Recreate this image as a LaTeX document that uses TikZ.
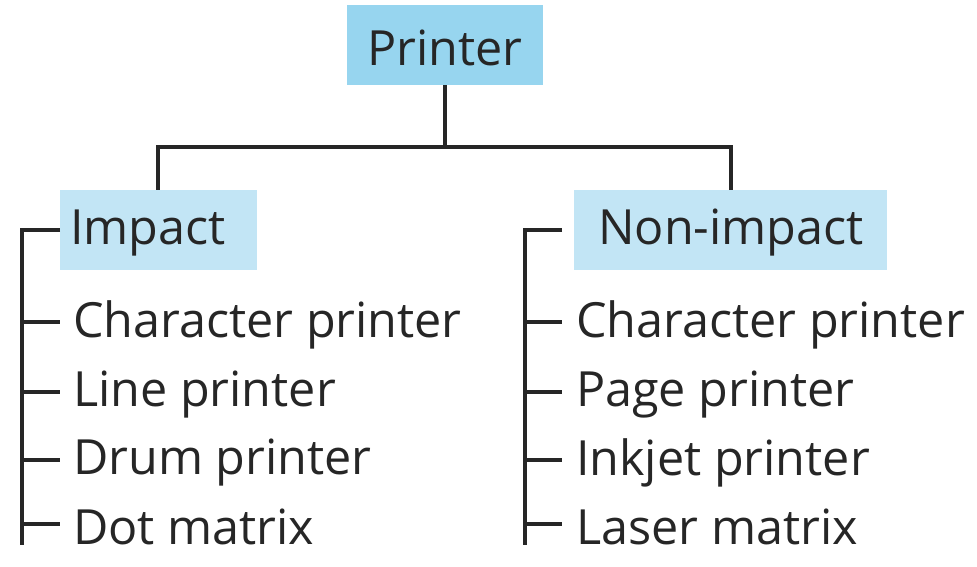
\documentclass[tikz,border=0pt]{standalone}
\usepackage{fontspec}
\setmainfont{Open Sans}
\begin{document}
\begin{tikzpicture}[x=1pt,y=-1pt,
  ln/.style={line width=3.2pt,color=black!85},
  itm/.style={anchor=west,inner sep=0pt,yshift=-3pt,font=\fontsize{48.5}{52}\selectfont,text=black!85},
  hdr/.style={inner sep=0pt,yshift=-3pt,font=\fontsize{48.5}{52}\selectfont,text=black!85}]
\useasboundingbox (0,0) rectangle (977,566);
\fill[fill={rgb,255:red,151;green,213;blue,239}] (347,5) rectangle (543,85);
\node[hdr] (p) at (445,45) {Printer};
\fill[fill={rgb,255:red,194;green,229;blue,245}] (60,190) rectangle (257,270);
\fill[fill={rgb,255:red,194;green,229;blue,245}] (574,190) rectangle (887,270);
\node[itm] (imp) at (70,230) {Impact};
\node[hdr] (nimp) at (731,230) {Non-impact};
\coordinate (pb) at (445,85);
\coordinate (ia) at (158,190);
\coordinate (na) at (731,190);
\draw[ln] (pb) -- (445,147) -- (158,147) -- (ia);
\draw[ln] (445,147) -- (731,147) -- (na);
\draw[ln] (60,230) -- (22,230) -- (22,545);
\draw[ln] (562,230) -- (525,230) -- (525,545);
\foreach \y/\a/\b [count=\i] in {322/Character printer/Character printer,392/Line printer/Page printer,460/Drum printer/Inkjet printer,524/Dot matrix/Laser matrix}{
  \draw[ln] (22,\y) -- (60,\y);
  \draw[ln] (525,\y) -- (562,\y);
  \node[itm] (l\i) at (73,\y) {\a};
  \node[itm] (r\i) at (576,\y) {\b};
}
\end{tikzpicture}
\end{document}
